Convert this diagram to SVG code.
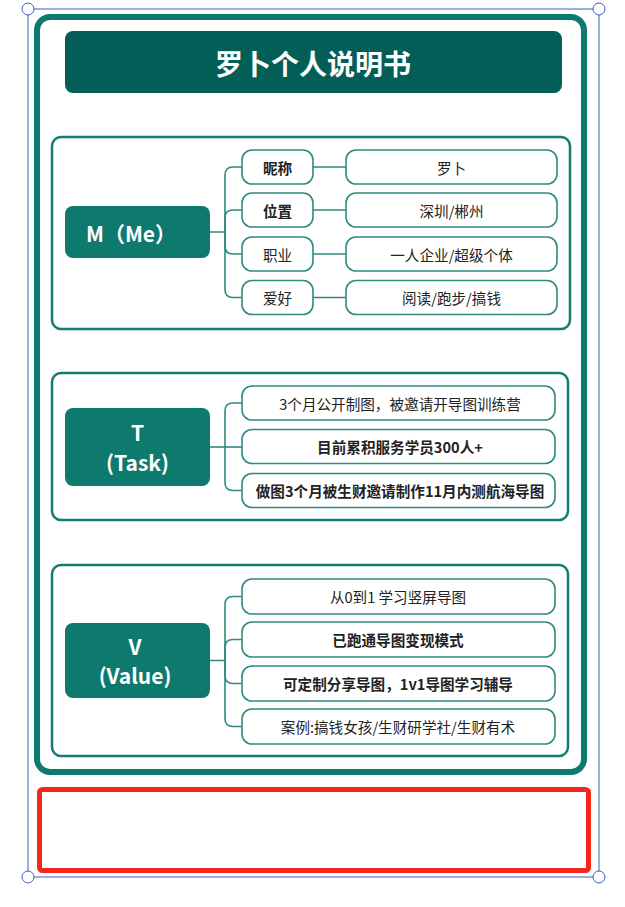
<svg xmlns="http://www.w3.org/2000/svg" width="625" height="907" viewBox="0 0 625 907">
<style>
.t{font-family:"Noto Sans CJK SC","Noto Sans",sans-serif;fill:#222;font-size:14.6px;text-anchor:middle;dominant-baseline:central}
.b{font-weight:bold}
.w{fill:#fff;font-weight:bold;font-size:21px}
.sec{fill:#fff;stroke:#137d72;stroke-width:2.5}
.main{fill:#0e7a6e}
.item{fill:#fff;stroke:#2f8a80;stroke-width:1.6}
.con{fill:none;stroke:#2f8a80;stroke-width:1.6}
.sel{fill:#fff;stroke:#3a5fcd;stroke-width:1}
</style>
<rect width="625" height="907" fill="#fff"/>
<g id="selection-frame">
<rect x="28" y="9" width="571" height="868" fill="none" stroke="#3a5fcd" stroke-width="1"/>
</g>
<g id="outer-frame">
<rect x="37" y="17" width="547" height="755" rx="13" fill="#fff" stroke="#0b7a6f" stroke-width="6"/>
</g>
<g id="title">
<rect x="65" y="31" width="497" height="62" rx="8" fill="#045e58"/>
<text class="t" x="313" y="63" style="fill:#fff;font-weight:bold;font-size:28px">罗卜个人说明书</text>
</g>
<g id="section-M"><rect class="sec" x="52" y="137" width="518" height="192" rx="9"/></g>
<g id="section-T"><rect class="sec" x="52" y="373" width="516" height="147" rx="9"/></g>
<g id="section-V"><rect class="sec" x="52" y="565" width="516" height="191" rx="9"/></g>
<g id="connectors">
<path class="con" d="M210 232 H225 V175 Q225 167 233 167 H242"/>
<path class="con" d="M225 232 V218 Q225 210 233 210 H242"/>
<path class="con" d="M225 232 V246 Q225 254 233 254 H242"/>
<path class="con" d="M225 232 V289.5 Q225 297.5 233 297.5 H242"/>
<path class="con" d="M313 167 H346 M313 210 H346 M313 254 H346 M313 297.5 H346"/>
<path class="con" d="M210 447 H242"/>
<path class="con" d="M225 447 V411 Q225 403 233 403 H242"/>
<path class="con" d="M225 447 V482.5 Q225 490.5 233 490.5 H242"/>
<path class="con" d="M210 660.5 H225 V604.5 Q225 596.5 233 596.5 H242"/>
<path class="con" d="M225 660.5 V647.5 Q225 639.5 233 639.5 H242"/>
<path class="con" d="M225 660.5 V675.5 Q225 683.5 233 683.5 H242"/>
<path class="con" d="M225 660.5 V718.5 Q225 726.5 233 726.5 H242"/>
</g>
<g id="node-M"><rect class="main" x="65" y="206" width="145" height="52" rx="8"/><text class="t w" x="131" y="233">M（Me）</text></g>
<g id="node-nickname"><rect class="item" x="242" y="150" width="71" height="34" rx="10"/><text class="t b" x="277.5" y="167">昵称</text></g>
<g id="node-location"><rect class="item" x="242" y="193" width="71" height="34" rx="10"/><text class="t b" x="277.5" y="210">位置</text></g>
<g id="node-job"><rect class="item" x="242" y="237" width="71" height="34" rx="10"/><text class="t" x="277.5" y="254">职业</text></g>
<g id="node-hobby"><rect class="item" x="242" y="280.5" width="71" height="34" rx="10"/><text class="t" x="277.5" y="297.5">爱好</text></g>
<g id="node-nickname-val"><rect class="item" x="346" y="150" width="211" height="34" rx="10"/><text class="t" x="451.5" y="167">罗卜</text></g>
<g id="node-location-val"><rect class="item" x="346" y="193" width="211" height="34" rx="10"/><text class="t" x="451.5" y="210">深圳/郴州</text></g>
<g id="node-job-val"><rect class="item" x="346" y="237" width="211" height="34" rx="10"/><text class="t" x="451.5" y="254">一人企业/超级个体</text></g>
<g id="node-hobby-val"><rect class="item" x="346" y="280.5" width="211" height="34" rx="10"/><text class="t" x="451.5" y="297.5">阅读/跑步/搞钱</text></g>
<g id="node-T"><rect class="main" x="65" y="408" width="145" height="78" rx="8"/><text class="t w" x="137.5" y="432">T</text><text class="t w" x="137.5" y="462">(Task)</text></g>
<g id="node-T1"><rect class="item" x="242" y="386" width="313" height="34" rx="10"/><text class="t" x="400" y="403">3个月公开制图，被邀请开导图训练营</text></g>
<g id="node-T2"><rect class="item" x="242" y="429.5" width="313" height="34" rx="10"/><text class="t b" x="400" y="446.5">目前累积服务学员300人+</text></g>
<g id="node-T3"><rect class="item" x="242" y="473.5" width="313" height="34" rx="10"/><text class="t b" x="400" y="490.5">做图3个月被生财邀请制作11月内测航海导图</text></g>
<g id="node-V"><rect class="main" x="65" y="623" width="145" height="75" rx="8"/><text class="t w" x="135" y="646">V</text><text class="t w" x="135" y="675">(Value)</text></g>
<g id="node-V1"><rect class="item" x="242" y="579" width="313" height="35" rx="10"/><text class="t" x="398" y="596.5">从0到1 学习竖屏导图</text></g>
<g id="node-V2"><rect class="item" x="242" y="622" width="313" height="35" rx="10"/><text class="t b" x="398" y="639.5">已跑通导图变现模式</text></g>
<g id="node-V3"><rect class="item" x="242" y="666" width="313" height="35" rx="10"/><text class="t b" x="398" y="683.5">可定制分享导图，1v1导图学习辅导</text></g>
<g id="node-V4"><rect class="item" x="242" y="709" width="313" height="35" rx="10"/><text class="t" x="398" y="726.5">案例:搞钱女孩/生财研学社/生财有术</text></g>
<g id="red-box"><rect x="39.5" y="789.5" width="549" height="81" rx="3" fill="#fff" stroke="#f5261b" stroke-width="5"/></g>
<g id="handles">
<circle class="sel" cx="28" cy="9" r="6"/>
<circle class="sel" cx="599" cy="9" r="6"/>
<circle class="sel" cx="28" cy="877" r="6"/>
<circle class="sel" cx="599" cy="877" r="6"/>
</g>
</svg>
